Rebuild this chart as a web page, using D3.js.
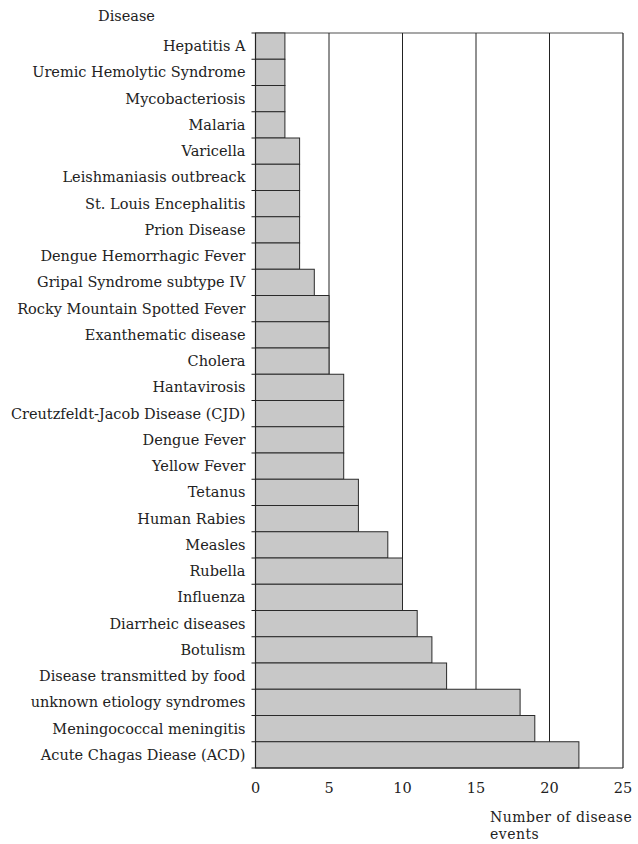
<!DOCTYPE html>
<html>
<head>
<meta charset="utf-8">
<script src="https://cdn.jsdelivr.net/npm/d3@7"></script>
<style>
  body { margin: 0; background: #fff; }
  svg { display: block; }
  text { font-family: "DejaVu Serif", "Liberation Serif", serif; fill: #222; }
</style>
</head>
<body>
<svg id="chart" width="638" height="844"></svg>
<script>
const categories = [
  "Hepatitis A", "Uremic Hemolytic Syndrome", "Mycobacteriosis", "Malaria",
  "Varicella", "Leishmaniasis outbreack", "St. Louis Encephalitis", "Prion Disease",
  "Dengue Hemorrhagic Fever", "Gripal Syndrome subtype IV", "Rocky Mountain Spotted Fever",
  "Exanthematic disease", "Cholera", "Hantavirosis", "Creutzfeldt-Jacob Disease (CJD)",
  "Dengue Fever", "Yellow Fever", "Tetanus", "Human Rabies", "Measles", "Rubella",
  "Influenza", "Diarrheic diseases", "Botulism", "Disease transmitted by food",
  "unknown etiology syndromes", "Meningococcal meningitis", "Acute Chagas Diease (ACD)"
];
const values = [2, 2, 2, 2, 3, 3, 3, 3, 3, 4, 5, 5, 5, 6, 6, 6, 6, 7, 7, 9, 10, 10, 11, 12, 13, 18, 19, 22];
const xTicks = [0, 5, 10, 15, 20, 25];
const gridTicks = [5, 10, 15, 20];

(function () {
const svg = d3.select("#chart");
const pL = 255.5, pR = 623, pT = 33, pB = 768;

const x = d3.scaleLinear().domain([0, 25]).range([pL, pR]);
const y = d3.scaleBand().domain(categories).range([pT, pB]).padding(0);

// top border (gray)
svg.append("line").attr("x1", pL).attr("x2", pR).attr("y1", pT).attr("y2", pT)
  .attr("stroke", "#8a8a8a").attr("stroke-width", 1.5);
// right border
svg.append("line").attr("x1", pR).attr("x2", pR).attr("y1", pT).attr("y2", pB)
  .attr("stroke", "#222").attr("stroke-width", 1.2);

// gridlines
svg.append("g").selectAll("line").data(gridTicks).join("line")
  .attr("x1", d => x(d)).attr("x2", d => x(d))
  .attr("y1", pT).attr("y2", pB)
  .attr("stroke", "#222").attr("stroke-width", 1);

// bars
svg.append("g").selectAll("rect").data(categories).join("rect")
  .attr("x", x(0))
  .attr("y", d => y(d))
  .attr("width", (d, i) => x(values[i]) - x(0))
  .attr("height", y.bandwidth())
  .attr("fill", "#c8c8c8")
  .attr("stroke", "#2a2a2a")
  .attr("stroke-width", 1);

// y axis with ticks at band boundaries
const boundaries = categories.map(c => y(c)).concat([pB]);
svg.append("line").attr("x1", pL).attr("x2", pL).attr("y1", pT).attr("y2", pB)
  .attr("stroke", "#222").attr("stroke-width", 1.2);
svg.append("g").selectAll("line").data(boundaries).join("line")
  .attr("x1", pL - 4).attr("x2", pL)
  .attr("y1", d => d).attr("y2", d => d)
  .attr("stroke", "#222").attr("stroke-width", 1);

// category labels
svg.append("g").selectAll("text").data(categories).join("text")
  .attr("x", pL - 10)
  .attr("y", d => y(d) + y.bandwidth() / 2)
  .attr("dy", "0.35em")
  .attr("text-anchor", "end")
  .attr("font-size", 14.5)
  .text(d => d);

// bottom axis line
svg.append("line").attr("x1", pL).attr("x2", pR).attr("y1", pB).attr("y2", pB)
  .attr("stroke", "#222").attr("stroke-width", 1.2);

// x tick labels
svg.append("g").selectAll("text").data(xTicks).join("text")
  .attr("x", d => x(d))
  .attr("y", 788)
  .attr("dy", "0.35em")
  .attr("text-anchor", "middle")
  .attr("font-size", 14.5)
  .text(d => d);

// titles
svg.append("text").attr("x", 98).attr("y", 21).attr("font-size", 14.5).text("Disease");
svg.append("text").attr("x", 490).attr("y", 822).attr("font-size", 14)
  .attr("letter-spacing", 0.5).text("Number of disease");
svg.append("text").attr("x", 490).attr("y", 838.5).attr("font-size", 14)
  .attr("letter-spacing", 0.5).text("events");
})();
</script>
</body>
</html>
